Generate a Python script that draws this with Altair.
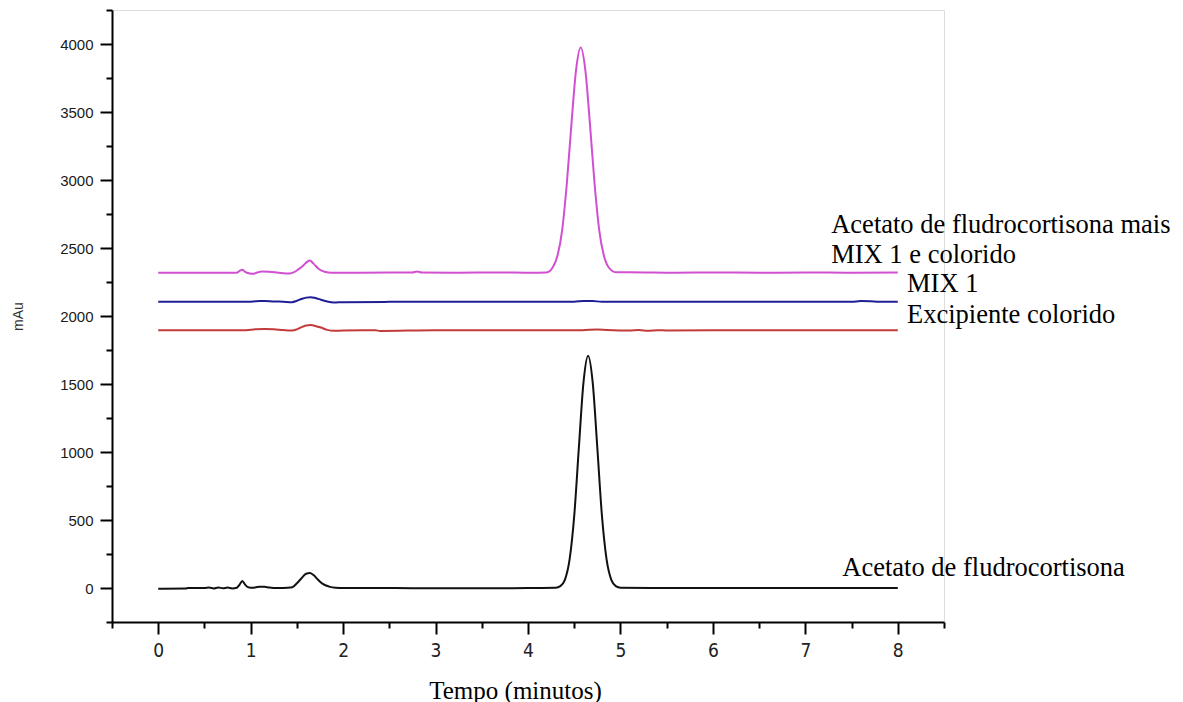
import altair as alt
import pandas as pd

# ---- data ----
series_names = ["Acetato de fludrocortisona", "Excipiente colorido", "MIX 1",
                "Acetato de fludrocortisona mais MIX 1 e colorido"]
series_colors = ["#111111", "#c23a3a", "#1e1e96", "#d24fd2"]

black_t = [0.0, 0.05, 0.3, 0.32, 0.5, 0.55, 0.6, 0.65, 0.7, 0.75,
           0.8, 0.85, 0.88, 0.91, 0.94, 0.97, 1.0, 1.05, 1.1, 1.15,
           1.2, 1.3, 1.4, 1.45, 1.5, 1.55, 1.6, 1.64, 1.68, 1.73,
           1.78, 1.85, 1.92, 2.0, 2.5, 3.0, 3.5, 4.0, 4.3, 4.35,
           4.4, 4.45, 4.5, 4.55, 4.6, 4.65, 4.7, 4.75, 4.8, 4.85,
           4.9, 4.95, 5.0, 5.5, 6.0, 6.5, 7.0, 7.5, 8.0]
black_v = [-5, -5, -4, 0, 0, 3, -3, 4, -2, 3,
           -3, 2, 25, 52, 25, 6, 2, 4, 10, 9,
           4, 0, 2, 6, 35, 72, 105, 110, 95, 60,
           30, 10, 2, 0, 0, -2, -2, 0, 2, 14,
           62, 210, 530, 1030, 1510, 1708, 1510, 1030, 530, 210,
           62, 14, 2, 0, 0, 0, 0, 0, 0]

mag_t = [0.0, 0.5, 0.85, 0.88, 0.91, 0.94, 0.98, 1.03, 1.08, 1.12,
         1.2, 1.3, 1.42, 1.47, 1.52, 1.57, 1.61, 1.64, 1.68, 1.73,
         1.8, 1.88, 2.0, 2.5, 2.75, 2.8, 2.85, 3.2, 3.7, 4.0,
         4.2, 4.27, 4.32, 4.37, 4.42, 4.47, 4.52, 4.57, 4.62, 4.67,
         4.72, 4.77, 4.82, 4.87, 4.95, 5.1, 5.6, 6.0, 6.5, 7.0,
         7.5, 8.0]
mag_v = [2318, 2318, 2318, 2332, 2340, 2325, 2314, 2310, 2322, 2327,
         2325, 2318, 2312, 2322, 2345, 2372, 2398, 2408, 2385, 2350,
         2325, 2318, 2318, 2320, 2320, 2327, 2320, 2318, 2320, 2318,
         2320, 2360, 2446, 2634, 2974, 3412, 3810, 3975, 3810, 3412,
         2974, 2634, 2446, 2360, 2322, 2322, 2318, 2320, 2318, 2320,
         2318, 2320]

blue_t = [0.0, 0.5, 1.0, 1.1, 1.15, 1.25, 1.35, 1.45, 1.5, 1.55,
          1.6, 1.65, 1.7, 1.76, 1.82, 1.9, 2.0, 2.5, 3.0, 3.5,
          4.0, 4.5, 4.6, 4.7, 4.8, 5.5, 6.0, 6.5, 7.0, 7.5,
          7.6, 7.7, 7.8, 7.9, 8.0]
blue_v = [2105, 2105, 2105, 2110, 2111, 2107, 2105, 2102, 2112, 2125,
          2135, 2138, 2132, 2120, 2108, 2099, 2102, 2104, 2105, 2104,
          2105, 2105, 2111, 2110, 2105, 2105, 2104, 2105, 2105, 2104,
          2110, 2109, 2104, 2105, 2105]

red_t = [0.0, 0.5, 0.95, 1.05, 1.15, 1.25, 1.35, 1.45, 1.5, 1.55,
         1.6, 1.65, 1.7, 1.76, 1.82, 1.9, 2.0, 2.35, 2.4, 3.0,
         3.5, 4.0, 4.5, 4.75, 4.85, 5.1, 5.2, 5.3, 5.4, 5.5,
         6.0, 7.0, 8.0]
red_v = [1895, 1895, 1896, 1903, 1905, 1903, 1897, 1893, 1902, 1918,
         1930, 1933, 1927, 1915, 1900, 1891, 1893, 1895, 1890, 1895,
         1895, 1895, 1895, 1900, 1897, 1893, 1897, 1891, 1896, 1894,
         1895, 1895, 1895]

x_major = [0, 1, 2, 3, 4, 5, 6, 7, 8]
x_minor = [-0.5, 0.5, 1.5, 2.5, 3.5, 4.5, 5.5, 6.5, 7.5, 8.5]
y_major = [0, 500, 1000, 1500, 2000, 2500, 3000, 3500, 4000]
y_minor = [-250, 250, 750, 1250, 1750, 2250, 2750, 3250, 3750, 4250]

label_text = ["Acetato de fludrocortisona mais", "MIX 1 e colorido", "MIX 1",
              "Excipiente colorido", "Acetato de fludrocortisona"]
label_x = [7.28, 7.28, 8.10, 8.10, 7.40]
label_y = [2610, 2390, 2176, 1949, 88]

# ---- build tables ----
rows = []
for name, ts, vs in [(series_names[0], black_t, black_v),
                     (series_names[1], red_t, red_v),
                     (series_names[2], blue_t, blue_v),
                     (series_names[3], mag_t, mag_v)]:
    for t, v in zip(ts, vs):
        rows.append({"series": name, "t": t, "v": v})
df = pd.DataFrame(rows)
labels_df = pd.DataFrame({"text": label_text, "x": label_x, "y": label_y})

xs = alt.Scale(domain=[-0.5, 8.5], nice=False, zero=False)
ys = alt.Scale(domain=[-250, 4250], nice=False, zero=False)

x_axis = alt.Axis(values=x_major, orient="bottom", grid=False, format="d",
                  domainColor="black", domainWidth=2, tickColor="black",
                  tickWidth=2, tickSize=12,
                  labelFont="Liberation Sans Narrow, DejaVu Sans Condensed, Liberation Sans",
                  labelFontSize=19, labelColor="#222222", labelPadding=7,
                  title="Tempo (minutos)", titleFont="Liberation Serif",
                  titleFontSize=25, titleFontWeight="normal", titleColor="black",
                  titleX=403, titleY=76, titleBaseline="alphabetic")
y_axis = alt.Axis(values=y_major, orient="left", grid=False, format="d",
                  domainColor="black", domainWidth=2, tickColor="black",
                  tickWidth=2, tickSize=12,
                  labelFont="Liberation Sans", labelFontSize=15,
                  labelColor="#1a1a1a", labelPadding=7,
                  title="mAu", titleFont="Liberation Sans", titleFontSize=14,
                  titleFontWeight="normal", titleColor="#333333",
                  titleX=-94, titleY=306, titleBaseline="middle", titleAngle=270)

lines = alt.Chart(df).mark_line(strokeWidth=2, interpolate="monotone").encode(
    x=alt.X("t:Q", scale=xs, axis=x_axis),
    y=alt.Y("v:Q", scale=ys, axis=y_axis),
    color=alt.Color("series:N",
                    scale=alt.Scale(domain=series_names, range=series_colors),
                    legend=None),
)

minor = alt.Chart(df).mark_line(strokeOpacity=0).encode(
    x=alt.X("t:Q", scale=xs,
            axis=alt.Axis(values=x_minor, orient="bottom", labels=False,
                          domain=False, grid=False, tickColor="black",
                          tickWidth=2, tickSize=6, title=None)),
    y=alt.Y("v:Q", scale=ys,
            axis=alt.Axis(values=y_minor, orient="left", labels=False,
                          domain=False, grid=False, tickColor="black",
                          tickWidth=2, tickSize=6, title=None)),
    detail="series:N",
)

texts = alt.Chart(labels_df).mark_text(
    align="left", baseline="alphabetic", font="Liberation Serif",
    fontSize=26.5, color="black"
).encode(
    x=alt.X("x:Q", scale=xs, axis=None),
    y=alt.Y("y:Q", scale=ys, axis=None),
    text="text:N",
)

chart = alt.layer(minor, lines, texts).resolve_axis(
    x="independent", y="independent"
).properties(
    width=832, height=612,
    autosize=alt.AutoSizeParams(type="none"),
    padding={"left": 112, "top": 10, "right": 239, "bottom": 80},
).configure_view(stroke=None).configure(background="white")

chart.save("out.html", embed_options={"renderer": "svg", "actions": False})
